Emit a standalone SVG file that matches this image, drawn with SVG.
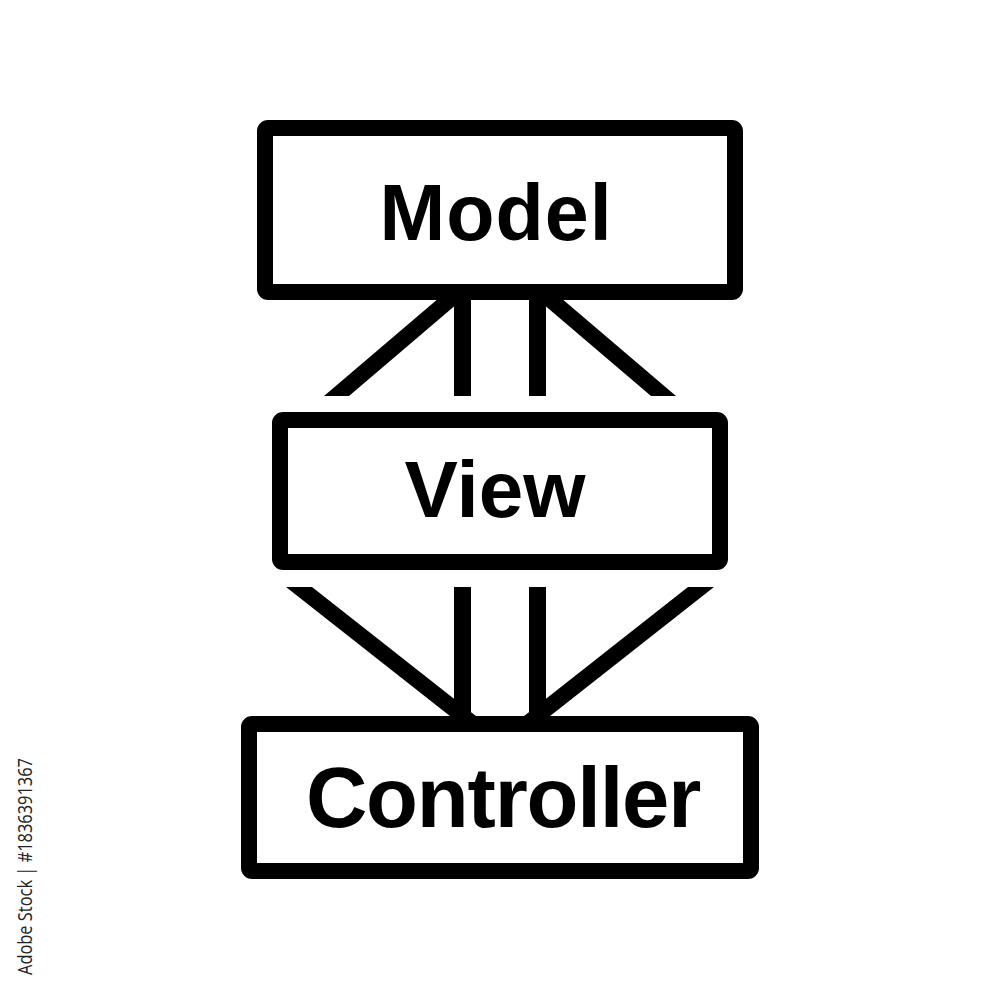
<svg xmlns="http://www.w3.org/2000/svg" width="1000" height="1000" viewBox="0 0 1000 1000">
  <style>
    .box { fill: #ffffff; stroke: #000000; stroke-width: 16; stroke-linejoin: round; }
    .lbl { font-family: "Liberation Sans", Arial, sans-serif; font-weight: bold; fill: #000000; text-anchor: middle; }
    .conn { fill: #000000; stroke: none; }
    .wm { font-family: "Open Sans", "Noto Sans", sans-serif; fill: #222222; font-size: 20px; }
  </style>
  <rect width="1000" height="1000" fill="#ffffff"/>
  <g id="connectors">
    <!-- Model to View -->
    <polygon class="conn" points="324,396 349,396 471,292 446,292"/>
    <rect class="conn" x="454" y="296" width="17" height="100"/>
    <rect class="conn" x="529" y="296" width="17" height="100"/>
    <polygon class="conn" points="676,396 651,396 529,292 554,292"/>
    <!-- View to Controller -->
    <polygon class="conn" points="286,587 312,587 481,720 455,720"/>
    <rect class="conn" x="454" y="587" width="17" height="133"/>
    <rect class="conn" x="529" y="587" width="17" height="133"/>
    <polygon class="conn" points="714,587 688,587 519,720 545,720"/>
  </g>
  <g id="model">
    <rect class="box" x="265" y="128" width="470" height="164" rx="3"/>
    <text class="lbl" x="496" y="240" font-size="79" letter-spacing="1">Model</text>
  </g>
  <g id="view">
    <rect class="box" x="280" y="420" width="440" height="142" rx="3"/>
    <text class="lbl" x="495" y="517" font-size="80">View</text>
  </g>
  <g id="controller">
    <rect class="box" x="249" y="724" width="502" height="147" rx="3"/>
    <text class="lbl" x="503" y="827" font-size="85" letter-spacing="-1.2">Controller</text>
  </g>
  <text class="wm" transform="translate(32,975) rotate(-90)" textLength="217" lengthAdjust="spacingAndGlyphs">Adobe Stock | #1836391367</text>
</svg>
